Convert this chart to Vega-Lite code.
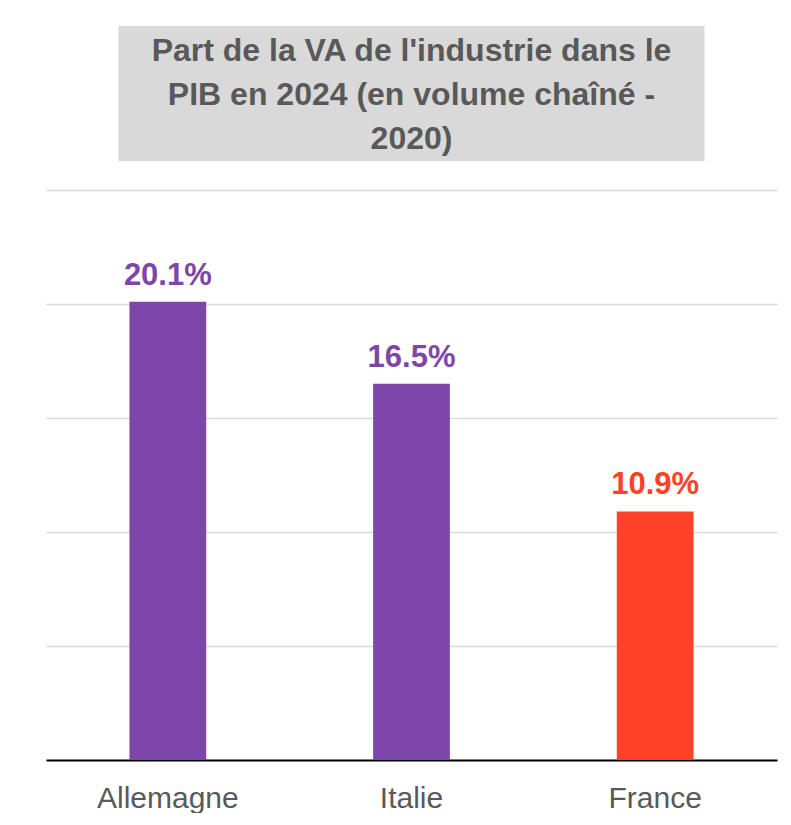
{
  "$schema": "https://vega.github.io/schema/vega-lite/v6.json",
  "background": "white",
  "padding": {"left": 46, "top": 26, "right": 14, "bottom": 0},
  "spacing": 29,
  "center": true,
  "config": {"view": {"stroke": null}, "font": "Liberation Sans"},
  "vconcat": [
    {
      "width": 586,
      "height": 135,
      "view": {"fill": "#D9D9D9", "stroke": null},
      "data": {"values": [{"titre": "Part de la VA de l'industrie  dans le\nPIB en 2024 (en volume chaîné -\n2020)"}]},
      "mark": {"type": "text", "fontSize": 32, "fontWeight": "bold", "color": "#595959", "lineHeight": 44, "lineBreak": "\n", "baseline": "middle", "align": "center", "dy": -43},
      "encoding": {"text": {"field": "titre", "type": "nominal"}}
    },
    {
      "width": 731,
      "height": 570,
      "data": {"values": [
        {"pays": "Allemagne", "part": 20.1, "label": "20.1%", "groupe": "autre"},
        {"pays": "Italie", "part": 16.5, "label": "16.5%", "groupe": "autre"},
        {"pays": "France", "part": 10.9, "label": "10.9%", "groupe": "France"}
      ]},
      "encoding": {
        "x": {"field": "pays", "type": "nominal", "sort": null,
              "scale": {"paddingInner": 0.685, "paddingOuter": 0.3425},
              "axis": {"title": null, "labelAngle": 0, "labelFontSize": 30, "labelColor": "#595959", "labelPadding": 23, "ticks": false, "domainColor": "black", "domainWidth": 2, "labelFont": "Liberation Sans"}},
        "y": {"field": "part", "type": "quantitative", "scale": {"domain": [0, 25]},
              "axis": {"title": null, "labels": false, "ticks": false, "domain": false, "values": [0, 5, 10, 15, 20, 25], "gridColor": "#D9D9D9", "gridWidth": 1.5}},
        "color": {"field": "groupe", "type": "nominal", "scale": {"domain": ["autre", "France"], "range": ["#7E46A8", "#FF4128"]}, "legend": null}
      },
      "layer": [
        {"mark": {"type": "bar"}},
        {"mark": {"type": "text", "dy": -17, "baseline": "alphabetic", "fontSize": 31, "fontWeight": "bold"},
         "encoding": {"text": {"field": "label", "type": "nominal"}}}
      ]
    }
  ]
}
